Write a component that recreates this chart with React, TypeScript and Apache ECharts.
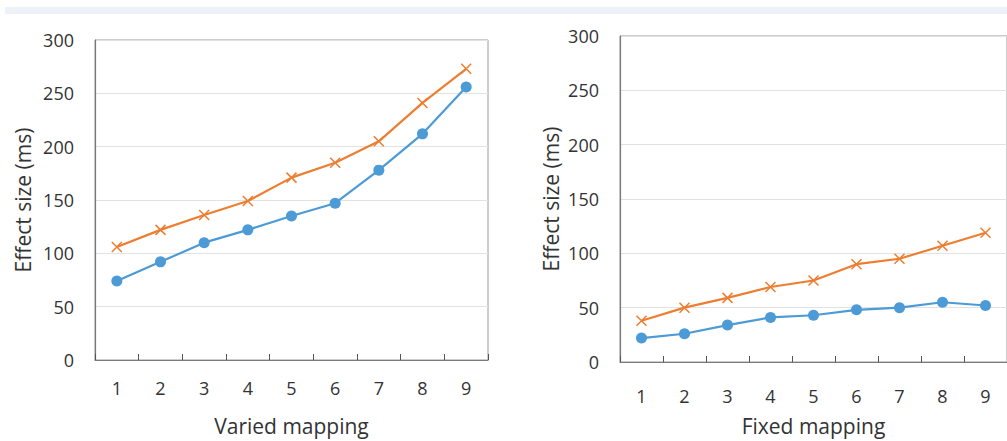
import React, { useEffect, useRef } from "react";
import * as echarts from "echarts";

const categories = ["1", "2", "3", "4", "5", "6", "7", "8", "9"];
const variedCircle = [74, 92, 110, 122, 135, 147, 178, 212, 256];
const variedCross = [106, 122, 136, 149, 171, 185, 205, 241, 273];
const fixedCircle = [22, 26, 34, 41, 43, 48, 50, 55, 52];
const fixedCross = [38, 50, 59, 69, 75, 90, 95, 107, 119];
const yTicks = { min: 0, max: 300, interval: 50 };
const xTitles = ["Varied mapping", "Fixed mapping"];
const yTitle = "Effect size (ms)";

const BLUE = "#4c9ad6";
const ORANGE = "#ed7d31";
const FONT = "Open Sans";
const CROSS = "path://M0,0L10,10M10,0L0,10";

export default function App() {
  const ref = useRef<HTMLDivElement>(null);
  useEffect(() => {
    const chart = echarts.init(ref.current!, null, { renderer: "svg" });
    const grids = [
      { left: 95, top: 40, width: 393, height: 322 },
      { left: 620, top: 36, width: 387, height: 328 },
    ];
    const xAxis = grids.map((_, i) => ({
      type: "category",
      gridIndex: i,
      data: categories,
      boundaryGap: true,
      name: xTitles[i],
      nameLocation: "middle",
      nameGap: i === 0 ? 55 : 53,
      nameTextStyle: { fontFamily: FONT, fontSize: 21, color: "#333" },
      axisLine: { show: true, lineStyle: { color: "#7a7a7a", width: 1.2 } },
      axisTick: { show: true, inside: true, length: 6, lineStyle: { color: "#555" } },
      axisLabel: { fontFamily: FONT, fontSize: 18, color: "#333", margin: i === 0 ? 19 : 25 },
      splitLine: { show: false },
    }));
    const yAxis = grids.map((_, i) => ({
      type: "value",
      gridIndex: i,
      min: yTicks.min,
      max: yTicks.max,
      interval: yTicks.interval,
      name: yTitle,
      nameLocation: "middle",
      nameGap: i === 0 ? 62 : 59,
      nameTextStyle: { fontFamily: FONT, fontSize: 21, color: "#333" },
      axisLine: { show: true, lineStyle: { color: "#7a7a7a", width: 1.2 } },
      axisTick: { show: false },
      axisLabel: { fontFamily: FONT, fontSize: 18, color: "#333", margin: 21 },
      splitLine: { show: true, lineStyle: { color: "#e2e2e2" } },
    }));
    const mk = (data: number[], idx: number, cross: boolean) => ({
      type: "line",
      xAxisIndex: idx,
      yAxisIndex: idx,
      data,
      symbol: cross ? CROSS : "circle",
      symbolSize: cross ? 10 : 11,
      lineStyle: { color: cross ? ORANGE : BLUE, width: 2.2 },
      itemStyle: cross
        ? { color: "none", borderColor: ORANGE, borderWidth: 1.5 }
        : { color: BLUE, borderWidth: 0 },
      z: cross ? 3 : 2,
    });
    chart.setOption({
      animation: false,
      backgroundColor: "#ffffff",
      grid: grids.map((g) => ({ ...g, show: true, borderColor: "#9a9a9a", borderWidth: 1 })),
      xAxis,
      yAxis,
      series: [
        mk(variedCircle, 0, false),
        mk(variedCross, 0, true),
        mk(fixedCircle, 1, false),
        mk(fixedCross, 1, true),
      ],
      graphic: [
        {
          type: "rect",
          shape: { x: 5, y: 7, width: 1002, height: 7 },
          style: { fill: "#edf1f8" },
          silent: true,
        },
      ],
    });
    return () => chart.dispose();
  }, []);
  return (
    <div
      ref={ref}
      style={{ position: "fixed", left: 0, top: 0, width: 1007, height: 441 }}
    />
  );
}
